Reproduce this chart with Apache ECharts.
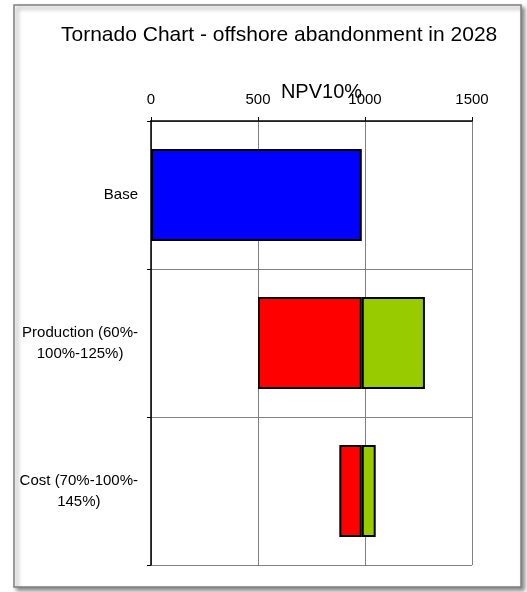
<!DOCTYPE html>
<html>
<head>
<meta charset="utf-8">
<title>Tornado Chart</title>
<script src="https://cdn.jsdelivr.net/npm/echarts@6/dist/echarts.min.js"></script>
<style>
  html, body { margin: 0; padding: 0; background: #ffffff; }
  #chart { width: 527px; height: 592px; }
</style>
</head>
<body>
<div id="chart"></div>
<script>
// Sensitivity cases, top to bottom
const categories = ['Base', 'Production (60%-100%-125%)', 'Cost (70%-100%-145%)'];
// Label lines for each case
const categoryLines = [['Base'], ['Production (60%-', '100%-125%)'], ['Cost (70%-100%-', '145%)']];
// NPV10% of the base case
const baseNpv = 985;
// NPV10% at the low and high end of each sensitivity ('-' = not applicable)
const lowNpv = ['-', 500, 880];
const highNpv = ['-', 1280, 1050];
// Top axis ticks
const axisMin = 0;
const axisMax = 1500;
const axisStep = 500;

const FONT = '"Liberation Sans", Arial, sans-serif';

// Floating bars are built by stacking on an invisible offset
const offsetData = lowNpv.map(v => v);
const baseData = categories.map((c, i) => (i === 0 ? baseNpv : '-'));
const downData = lowNpv.map(v => (v === '-' ? '-' : baseNpv - v));
const upData = highNpv.map(v => (v === '-' ? '-' : v - baseNpv));

const chart = echarts.init(document.getElementById('chart'), null, { renderer: 'canvas' });

const barBorder = { borderColor: '#000000', borderWidth: 2 };

chart.setOption({
  backgroundColor: '#ffffff',
  animation: false,
  graphic: [{
    type: 'rect',
    z: -1,
    shape: { x: 14, y: 5, width: 507, height: 582 },
    style: {
      fill: '#ffffff',
      stroke: '#7f7f7f',
      lineWidth: 1.5,
      shadowBlur: 4,
      shadowOffsetX: 3,
      shadowOffsetY: 3,
      shadowColor: 'rgba(0,0,0,0.45)'
    }
  }],
  title: {
    text: 'Tornado Chart - offshore abandonment in 2028',
    left: 56,
    top: 20,
    textStyle: { fontFamily: FONT, fontSize: 21, fontWeight: 'normal', color: '#000000' }
  },
  grid: { left: 151, right: 55, top: 121, bottom: 27, containLabel: false },
  xAxis: {
    type: 'value',
    position: 'top',
    min: axisMin,
    max: axisMax,
    interval: axisStep,
    name: 'NPV10%',
    nameLocation: 'middle',
    nameGap: 19,
    nameMoveOverlap: false,
    nameTextStyle: { fontFamily: FONT, fontSize: 20, color: '#000000', padding: [0, 0, 0, 20] },
    axisLine: { show: true, lineStyle: { color: '#000000', width: 1.5 } },
    axisTick: { show: true, inside: false, length: 4, lineStyle: { color: '#000000', width: 1 } },
    axisLabel: {
      fontFamily: FONT, fontSize: 15, color: '#000000', margin: 14,
      formatter: function (v) { return String(v); }
    },
    splitLine: { show: true, lineStyle: { color: '#808080', width: 1 } }
  },
  yAxis: {
    type: 'category',
    inverse: true,
    data: categories,
    axisLine: { show: true, lineStyle: { color: '#000000', width: 1.5 } },
    axisTick: { show: true, inside: false, length: 4, lineStyle: { color: '#000000', width: 1 } },
    splitLine: { show: true, lineStyle: { color: '#808080', width: 1 } },
    axisLabel: {
      margin: 13,
      align: 'right',
      fontFamily: FONT,
      fontSize: 15,
      lineHeight: 21,
      color: '#000000',
      formatter: function (value, index) {
        return categoryLines[index].map(l => '{c|' + l + '}').join('\n');
      },
      rich: {
        c: { align: 'center', fontFamily: FONT, fontSize: 15, lineHeight: 21, color: '#000000' }
      }
    }
  },
  series: [
    {
      name: 'offset', type: 'bar', stack: 'npv', barWidth: '62%',
      data: offsetData, silent: true,
      itemStyle: { color: 'rgba(0,0,0,0)', borderWidth: 0 }
    },
    {
      name: 'Base', type: 'bar', stack: 'npv', barWidth: '62%',
      data: baseData,
      itemStyle: Object.assign({ color: '#0000ff' }, barBorder)
    },
    {
      name: 'Low', type: 'bar', stack: 'npv', barWidth: '62%',
      data: downData,
      itemStyle: Object.assign({ color: '#ff0000' }, barBorder)
    },
    {
      name: 'High', type: 'bar', stack: 'npv', barWidth: '62%',
      data: upData,
      itemStyle: Object.assign({ color: '#99cc00' }, barBorder)
    }
  ]
});
</script>
</body>
</html>
